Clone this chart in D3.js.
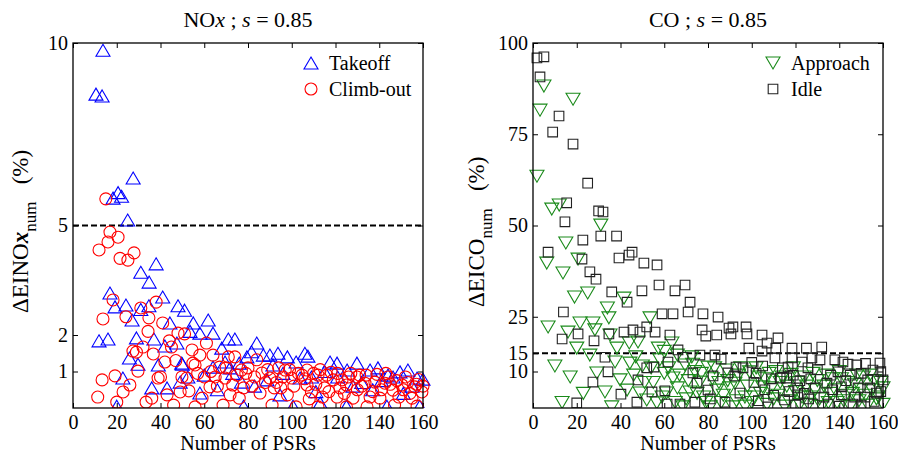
<!DOCTYPE html>
<html>
<head>
<meta charset="utf-8">
<script src="https://cdnjs.cloudflare.com/ajax/libs/d3/7.8.5/d3.min.js"></script>
<style>
body { margin: 0; background: #fff; }
text { font-family: "Liberation Serif", "Times New Roman", serif; fill: #000; white-space: pre; }
</style>
</head>
<body>
<div id="chart"></div>
<script>
// ---- data: [number of PSRs, value %] ----
var takeoff = [
  [10.5,8.6],[13.3,8.55],[13.7,9.8],[11.9,1.84],[16,1.89],[16.9,3.15],[18.3,5.75],[19.2,2.77],[20,0.05],
  [20.6,5.9],[22.2,5.8],[22.8,0.82],[24.2,2.82],[25,5.15],[25.8,1.37],[27,2.41],[27.5,6.3],[29,1.92],
  [29.7,1.2],[31,3.72],[31,2.7],[34.8,3.45],[34.7,2.8],[36,0.55],[37,1.89],[38,3.95],[39,1.18],[41,3.04],
  [42,1.7],[43,0.55],[44.3,2.33],[47.5,1.78],[48,2.8],[49,0.71],[49.7,1.23],[50,1.2],[51,2.68],[52.5,0.85],
  [53.5,2.1],[55,2.33],[58,2.05],[58,0.41],[60,0.9],[61.8,2.41],[64,2.05],[64,1.12],[66,0.5],[68,1.64],
  [69.5,1.26],[71,1.89],[71.8,1.1],[73,0.95],[74,1.89],[76,1.23],[77,0.71],[78,0.05],[79.5,1.4],[81.6,1.54],
  [83,0.6],[84,1.78],[87,1.45],[88.7,0.77],[90,1.45],[91.4,1.18],[93.7,1.5],[94.6,0.36],[96,0.95],[98,1.4],
  [100.6,0.05],[102,1.26],[103.8,0.82],[106,1.5],[107.4,1.42],[109,0.85],[111,0.45],[113,0.14],[115,1.0],
  [117.5,1.26],[120.7,1.23],[121,0.85],[125,0.05],[125.3,1.04],[128,0.6],[129.8,1.23],[132,0.7],[135.8,1.04],
  [137,0.5],[139.4,1.1],[141,0.75],[143.5,0.05],[144,0.9],[146.3,0.85],[149.5,0.99],[151,0.4],[153.1,1.04],
  [155,0.6],[157.3,0.82],[158.5,0.05],[160,0.79]
];
var climbout = [
  [11.3,0.3],[11.9,4.33],[13.3,0.77],[13.7,2.44],[15,5.73],[16,4.55],[16.9,4.82],[18.3,2.96],[19.2,0.88],
  [20,0.16],[20.6,4.68],[21.5,4.1],[22.9,0.44],[24.2,2.5],[25.1,4.05],[26,0.63],[27.4,1.56],[27.9,4.25],
  [29,1.53],[29.7,1.01],[31,2.74],[32,1.67],[33.4,0.16],[34.3,2.1],[34.7,2.47],[36,0.27],[36.7,1.48],
  [38,2.9],[38.9,0.82],[40,0.85],[41,2.33],[42,1.26],[43,0.36],[44,1.84],[45,1.67],[46,0.08],[47,1.3],
  [48,2.05],[49,0.44],[49.8,0.85],[51,2.03],[52,0.82],[53,0.47],[54.4,1.59],[54.8,1.23],[55.8,1.18],
  [55.8,0.03],[57,0.95],[58,1.45],[59,0.27],[60,0.85],[61,1.78],[62.6,0.58],[63,1.0],[64,1.45],[65,0.85],
  [66,0.6],[67,1.12],[68.6,0.08],[69.5,0.82],[70,1.1],[71,1.4],[71.8,0.36],[73,0.63],[74,1.4],[75,0.9],
  [76,0.27],[77,1.04],[78,0.55],[79,0.95],[80,1.1],[81.8,0.6],[83,0.85],[84,1.32],[85.5,0.41],[86.4,0.96],
  [88,0.7],[89,1.05],[90,0.82],[91,0.08],[92,0.55],[93,0.7],[94,1.1],[95,0.55],[96,0.85],[97,1.04],[98,0.36],
  [99,1.05],[100,0.82],[101,0.6],[102,0.03],[103,0.95],[104.7,0.9],[106,0.8],[107,0.63],[107,1.04],
  [108,0.25],[109,0.44],[110,0.95],[111,0.65],[112,0.9],[112,0.03],[113,1.05],[114,0.3],[115,0.55],[116,0.9],
  [117,0.45],[118,0.98],[119,0.77],[120.7,0.3],[121,0.95],[122,0.55],[123,0.77],[124,0.4],[125,0.63],
  [125,0.03],[126,0.85],[127,0.95],[128,0.27],[129.8,0.85],[130,0.5],[131,0.9],[132,0.6],[133.5,0.68],
  [134,0.9],[134.4,0.03],[135.8,0.3],[137,0.45],[138,0.71],[139,0.92],[140.3,0.27],[141,0.5],[142.6,0.68],
  [143,0.95],[144,0.85],[145,0.65],[146.3,0.49],[147,0.08],[148,0.75],[149,0.3],[150.4,0.63],[151,0.5],
  [152,0.85],[153,0.7],[154,0.4],[155,0.27],[156.3,0.58],[157,0.65],[157.3,0.05],[158,0.78],[159.5,0.44],
  [160,0.6]
];
var approach = [
  [1.8,63.5],[3.2,81.6],[5,88.2],[6.3,39.7],[6.9,22.2],[8.6,54.5],[10,11.5],[12,55.6],[13.3,1.5],[13.7,37],
  [15,45.2],[16,20.8],[17,8.5],[18.3,84.6],[19,30.4],[20,16.4],[20.6,40.8],[21.5,23.3],[23,4],[25,31.5],
  [26,14.5],[27.4,23.3],[28.3,21.4],[29.2,9.6],[31,50.1],[32.9,4.4],[34,27.4],[34.7,24.7],[35.2,20],[36,0.3],
  [37.5,12.6],[38.4,16.4],[39.8,7.7],[41.6,30.1],[43,4.9],[44,17.8],[44.3,12.3],[46,9],[47,14],[48,18.1],
  [49,4.1],[50,11.5],[51,7],[52,2.2],[53.5,24.7],[54,11],[55,7],[56.6,1.4],[57.3,16.4],[58,13.2],[59,3],
  [60,9.5],[60,15.5],[61,4.1],[62,11],[63.5,17.8],[64,8.2],[65,1.5],[66,5.5],[66,14.5],[67,9],[68.6,0.3],
  [69.5,11.8],[70,2.5],[71,7.5],[71.8,4.4],[72.6,14],[73,12],[74,10],[75,4],[76.3,7.1],[77,9.5],[78,3],
  [79,1.5],[80,11.2],[81,0.3],[82,8],[83,11],[84,4.9],[85,7],[86,1.5],[87,3.5],[88.6,10.4],[89,7.5],[90,5.5],
  [91.4,0.3],[92.3,6.8],[93,2],[94,9],[95,11],[96.9,3],[97,0.5],[98,6],[99,9.9],[100,1.5],[101,3],[102,11],
  [103,8.5],[104,4],[105,5.8],[106,8],[107,1],[108,9.5],[109,5.5],[110,2.5],[111,10],[112,3.5],[113,7],
  [114,8.5],[115,0.5],[116,6],[117,2],[118,9.2],[119,11],[120,4.5],[121,7],[122,1],[123,3],[124,8.5],
  [125,6],[126,1],[127,3],[128,9.5],[129,5],[130,7.5],[131,2.5],[132,0.4],[133,6],[134,9],[135,1.5],[136,4],
  [137,8],[138,5],[139,1.5],[140,10],[141,8],[142,2],[143,3.5],[144,7],[145,0.4],[146,4],[147,6.5],[148,9],
  [149,2],[150,5],[151,8.5],[152,3.5],[153,0.8],[154,9],[155,5],[156,7.5],[157,2.5],[158,3],[159,7],[160,1],
  [160,5.5]
];
var idle = [
  [1.8,95.9],[3.2,90.7],[5,96.2],[6.9,42.7],[9,75.6],[11.9,80],[13.3,18.9],[13.9,26.3],[14.6,51],[15.4,56.2],
  [18.3,72.3],[20,1.4],[20.6,20.3],[22.4,40.8],[22.8,46],[25,61.6],[26,37.3],[27.4,7.1],[27.9,18.4],
  [28.8,35.3],[30,54],[31,47.1],[32,53.7],[32.9,13.9],[34.3,9.9],[34.7,20.3],[36,31.8],[38.2,47.1],
  [39.3,41.1],[40.2,3.8],[41.6,20.8],[43,29],[43.9,41.9],[45.3,42.7],[45.7,21.4],[47.5,1.6],[48,7.7],
  [48.9,20.8],[49.8,32.1],[50.7,39.7],[52,22.2],[52,11],[54.4,4.4],[55.3,11.2],[55.8,20.8],[56.7,39.2],
  [57.6,33.7],[59,25.8],[60.3,4.7],[61.3,1.1],[61.7,12.6],[62.6,20],[64,25.8],[64.9,32.1],[66.3,15.9],
  [67.2,1.1],[68.6,13.9],[69.5,33.7],[70.9,26.3],[71.8,29],[73.1,9.6],[74,1.6],[75,6.8],[76.3,14.5],
  [77.3,21.4],[77.7,25.8],[79,19.7],[80,4.9],[81,2.5],[82.3,8.8],[83.2,14.5],[84,20],[84.6,24.9],[86,13.4],
  [87.8,1.6],[89.1,9.6],[89.6,21.9],[90.5,20.3],[91.4,22.2],[92.3,8.8],[92.8,11.2],[94.6,4.1],[96,11],
  [97.4,22.2],[97.8,20.3],[98.7,16.4],[100,12.5],[101,7],[102,9.5],[103,2],[104.7,20],[104.7,15.6],
  [105,11.5],[106,5],[107,17.8],[107.4,0.3],[109,8],[110,3.5],[110.6,13.7],[111,16.4],[112,19.2],[113,8.2],
  [114,11],[115,2.2],[116,8.2],[116.6,11.2],[117,4.5],[118.4,16.4],[118.4,13.7],[119,9],[120,0.8],[121,5.5],
  [121,3.6],[122,7.5],[123,12.6],[124,4],[125,16.4],[125.7,11],[126,2.5],[127,8],[127.5,13.7],[128,1.1],
  [129,5.5],[130,10.5],[131.2,13.2],[132,16.7],[133,3],[134.4,6.8],[135,1.1],[136,9],[137,5],[138,13.2],
  [139.4,9.9],[140,0.5],[141,5.8],[141,3.6],[141.7,12.6],[143,7.5],[144,12],[145,9],[146.3,1.1],[147,3],
  [148,11.8],[148.6,5.5],[150,9.5],[150,0.8],[151.8,3],[152,12.2],[153,7.7],[154,5.5],[155.4,10.4],
  [156,1.8],[157,4.1],[158.6,12.3],[159,10],[159,4.5],[160,7.7]
];

var xTicks = [0, 20, 40, 60, 80, 100, 120, 140, 160];
var noxTicks = [1, 2, 5, 10];
var coTicks = [10, 15, 25, 50, 75, 100];

var w = 898, h = 459;
var top_ = 43, bottom = 408, plotW = 350;

var svg = d3.select('#chart').append('svg')
  .attr('width', w)
  .attr('height', h);

// marker shapes (MATLAB-ish)
var shapes = {
  up: 'M0,-6L7,6L-7,6Z',
  down: 'M0,6L7,-6L-7,-6Z',
  square: 'M-4.8,-4.8H4.8V4.8H-4.8Z',
  circle: d3.symbol().type(d3.symbolCircle).size(Math.PI * 36)()
};

function drawPanel(p) {
  var g = svg.append('g');
  var x = d3.scaleLinear().domain([0, 160]).range([p.left, p.left + plotW]);
  var y = d3.scaleLinear().domain(p.ydomain).range([bottom, top_]);

  // clip only at the bottom, like the original
  svg.append('clipPath').attr('id', p.id + '-clip')
    .append('rect')
    .attr('x', p.left - 15).attr('y', 20)
    .attr('width', plotW + 30).attr('height', bottom - 20);

  // axes with inward ticks
  var fmtNone = function() { return ''; };
  g.append('g').attr('transform', 'translate(0,' + bottom + ')')
    .call(d3.axisBottom(x).tickValues(xTicks).tickSize(-5).tickSizeOuter(0).tickPadding(7));
  g.append('g').attr('transform', 'translate(0,' + top_ + ')')
    .call(d3.axisTop(x).tickValues(xTicks).tickSize(-5).tickSizeOuter(0).tickFormat(fmtNone));
  g.append('g').attr('transform', 'translate(' + p.left + ',0)')
    .call(d3.axisLeft(y).tickValues(p.yticks).tickSize(-5).tickSizeOuter(0).tickPadding(5));
  g.append('g').attr('transform', 'translate(' + (p.left + plotW) + ',0)')
    .call(d3.axisRight(y).tickValues(p.yticks).tickSize(-5).tickSizeOuter(0).tickFormat(fmtNone));

  g.selectAll('.domain').remove();
  g.selectAll('.tick line').attr('stroke', '#000').attr('stroke-width', 1);
  g.selectAll('.tick text')
    .style('font-family', '"Liberation Serif", serif')
    .style('font-size', '20px')
    .attr('fill', '#000');

  // threshold line
  g.append('line')
    .attr('x1', p.left).attr('x2', p.left + plotW)
    .attr('y1', y(p.threshold)).attr('y2', y(p.threshold))
    .attr('stroke', '#000').attr('stroke-width', 2)
    .attr('stroke-dasharray', '6,3');

  // scatter series
  var pts = g.append('g').attr('clip-path', 'url(#' + p.id + '-clip)');
  p.series.forEach(function(s) {
    pts.selectAll('path.' + s.cls)
      .data(s.data)
      .enter().append('path')
      .attr('class', s.cls)
      .attr('d', shapes[s.shape])
      .attr('transform', function(d) { return 'translate(' + x(d[0]) + ',' + y(d[1]) + ')'; })
      .attr('fill', 'none')
      .attr('stroke', s.color)
      .attr('stroke-width', 1.1);
  });

  // frame
  g.append('rect')
    .attr('x', p.left).attr('y', top_)
    .attr('width', plotW).attr('height', bottom - top_)
    .attr('fill', 'none').attr('stroke', '#000').attr('stroke-width', 1.3);

  // legend
  p.series.forEach(function(s, i) {
    var ly = 63 + i * 26;
    g.append('path')
      .attr('d', shapes[s.shape])
      .attr('transform', 'translate(' + (p.left + p.legX) + ',' + ly + ')')
      .attr('fill', 'none').attr('stroke', s.color).attr('stroke-width', 1.1);
    g.append('text')
      .attr('x', p.left + p.legX + 18).attr('y', ly + 7)
      .style('font-size', '20px')
      .text(s.name);
  });

  // title
  var t = g.append('text')
    .attr('x', p.left + plotW / 2).attr('y', 27)
    .attr('text-anchor', 'middle')
    .style('font-size', '22px');
  p.title.forEach(function(part) {
    t.append('tspan').style('font-style', part[1] ? 'italic' : 'normal').text(part[0]);
  });

  // x label
  g.append('text')
    .attr('x', p.left + plotW / 2).attr('y', 450)
    .attr('text-anchor', 'middle')
    .style('font-size', '20px')
    .text('Number of PSRs');

  // y label
  var yl = g.append('text')
    .attr('transform', 'translate(' + p.ylabX + ',' + p.ylabY + ') rotate(-90)')
    .style('font-size', '23px');
  yl.append('tspan').text(p.ylab[0]);
  if (p.ylab[1]) {
    yl.append('tspan').style('font-style', 'italic').style('font-weight', 'bold').text(p.ylab[1]);
  }
  yl.append('tspan').attr('dy', 8).style('font-size', '17px').text('num');
  yl.append('tspan').attr('dy', -8).text('\u00a0\u00a0\u00a0(%)');
}

drawPanel({
  id: 'nox', left: 73, ydomain: [0, 10], yticks: noxTicks, threshold: 5,
  legX: 238, ylabX: 28, ylabY: 313,
  title: [['NO', false], ['x', true], [' ; ', false], ['s', true], [' = 0.85', false]],
  ylab: ['\u0394EINO', 'x'],
  series: [
    { name: 'Takeoff', cls: 'to', data: takeoff, shape: 'up', color: '#0000ff' },
    { name: 'Climb-out', cls: 'co', data: climbout, shape: 'circle', color: '#ff0000' }
  ]
});

drawPanel({
  id: 'co', left: 533, ydomain: [0, 100], yticks: coTicks, threshold: 15,
  legX: 240, ylabX: 484, ylabY: 307,
  title: [['CO ; ', false], ['s', true], [' = 0.85', false]],
  ylab: ['\u0394EICO', null],
  series: [
    { name: 'Approach', cls: 'ap', data: approach, shape: 'down', color: '#1a8a1a' },
    { name: 'Idle', cls: 'id', data: idle, shape: 'square', color: '#222222' }
  ]
});
</script>
</body>
</html>
